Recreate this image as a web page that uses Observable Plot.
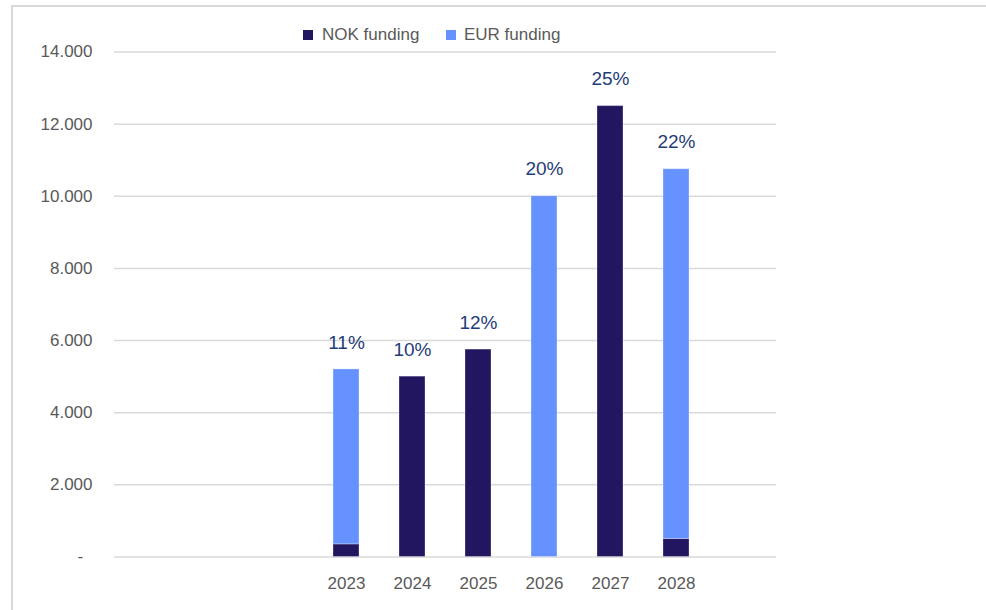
<!DOCTYPE html>
<html>
<head>
<meta charset="utf-8">
<script src="https://cdn.jsdelivr.net/npm/d3@7"></script>
<script src="https://cdn.jsdelivr.net/npm/@observablehq/plot@0.6"></script>
<style>
  html, body { margin: 0; padding: 0; background: #fff; overflow: hidden; }
  #wrap { position: relative; width: 986px; height: 610px; font-family: "Liberation Sans", Arial, sans-serif; }
  #frame { position: absolute; left: 11px; top: 5px; width: 990px; height: 620px;
           border-top: 2px solid #d9d9d9; border-left: 2px solid #d9d9d9; box-sizing: border-box; }
  #legend { position: relative; height: 40px; }
  .sw { position: absolute; top: 30px; width: 10px; height: 10px; }
  .lt { position: absolute; top: 25px; font-size: 17px; line-height: 20px; color: #595959; white-space: nowrap; }
  #chart { position: relative; }
</style>
</head>
<body>
<div id="wrap">
  <div id="frame"></div>
  <div id="legend"></div>
  <div id="chart"></div>
</div>
<script>
// ---- data ----
const slots = ["", " ", "  ", "2023", "2024", "2025", "2026", "2027", "2028", "   "];
const years = ["2023", "2024", "2025", "2026", "2027", "2028"];
const series = ["NOK funding", "EUR funding"];
const nokFunding = [350, 5000, 5750, 0, 12500, 500];
const eurFunding = [4850, 0, 0, 10000, 0, 10250];
const shareLabels = ["11%", "10%", "12%", "20%", "25%", "22%"];
const yTicks = [0, 2000, 4000, 6000, 8000, 10000, 12000, 14000];
const colors = ["#221661", "#6592ff"];

// ---- build tables ----
const rows = [];
years.forEach((y, i) => {
  rows.push({year: y, series: series[0], value: nokFunding[i]});
  rows.push({year: y, series: series[1], value: eurFunding[i]});
});
const bars = rows.filter(d => d.value > 0);
const totals = years.map((y, i) => ({year: y, total: nokFunding[i] + eurFunding[i], label: shareLabels[i]}));

const loc = d3.formatLocale({decimal: ",", thousands: ".", grouping: [3], currency: ["", ""]});
const fmt = loc.format(",");

// ---- legend ----
const legend = document.getElementById("legend");
const legendPos = [{sw: 303, tx: 322}, {sw: 446, tx: 464}];
series.forEach((s, i) => {
  const sw = document.createElement("div");
  sw.className = "sw"; sw.style.left = legendPos[i].sw + "px"; sw.style.background = colors[i];
  const t = document.createElement("div");
  t.className = "lt"; t.style.left = legendPos[i].tx + "px"; t.textContent = s;
  legend.appendChild(sw); legend.appendChild(t);
});

// ---- chart ----
const chart = Plot.plot({
  width: 986,
  height: 570,
  marginTop: 11.5,
  marginBottom: 53.5,
  marginLeft: 114,
  marginRight: 210,
  style: {fontFamily: "Liberation Sans, Arial, sans-serif", fontSize: "17px", background: "transparent"},
  x: {domain: slots, paddingInner: 0.6, paddingOuter: 0.3, align: 0.5},
  y: {domain: [0, 14000]},
  color: {domain: series, range: colors},
  marks: [
    Plot.gridY(yTicks, {stroke: "#d9d9d9", strokeOpacity: 1, strokeWidth: 1.5}),
    Plot.barY(bars, {x: "year", y: "value", fill: "series", stroke: "#ffffff", strokeOpacity: 0.3, strokeWidth: 1}),
    Plot.axisY({ticks: yTicks, tickSize: 0, tickPadding: 22, label: null, fill: "#595959",
      tickFormat: d => d === 0 ? "-\u00a0\u00a0" : fmt(d)}),
    Plot.axisX({tickSize: 0, tickPadding: 20, label: null, fill: "#595959"}),
    Plot.text(totals, {x: "year", y: "total", text: "label", dy: -27, fill: "#1f3c78", fontSize: 19})
  ]
});
document.getElementById("chart").appendChild(chart);
</script>
</body>
</html>
